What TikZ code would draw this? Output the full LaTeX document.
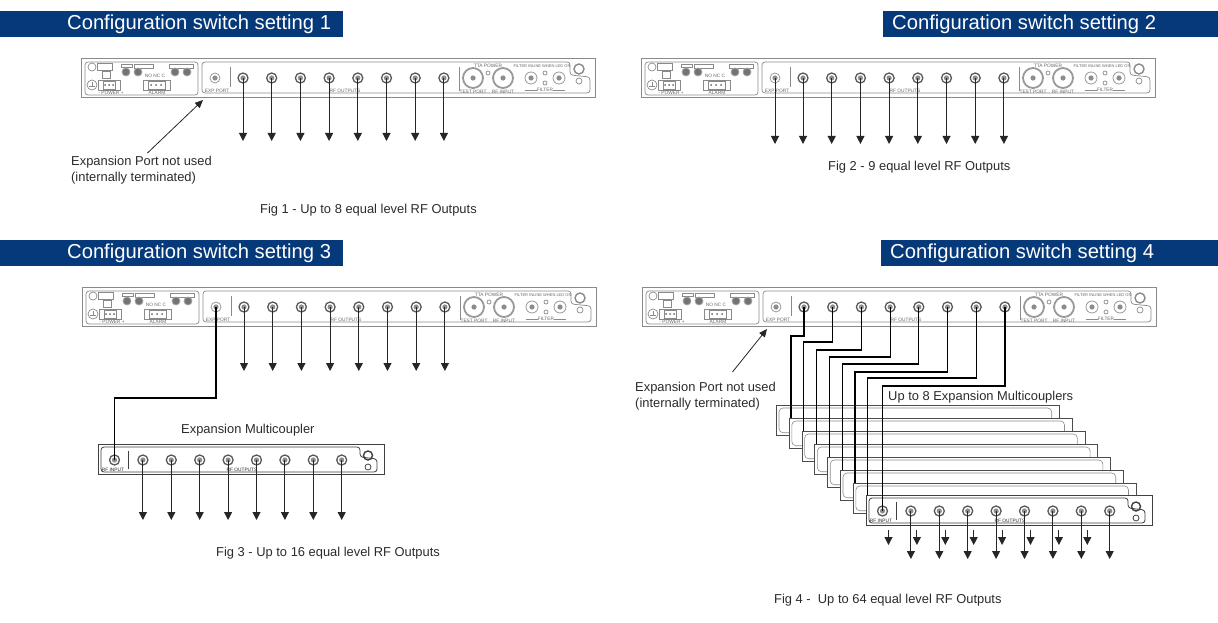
\documentclass[tikz,border=0pt]{standalone}
\usepackage{fontspec}
\setmainfont{Liberation Sans}
\usetikzlibrary{arrows.meta, calc}
\definecolor{headblue}{HTML}{06397A}
\definecolor{ink}{HTML}{2B2B2B}
\definecolor{panelgray}{HTML}{8A8A8A}
\tikzset{
  bar/.style={rectangle, fill=headblue, minimum height=26pt, inner sep=0pt, anchor=north west},
  title/.style={font=\fontsize{20.2}{22}\selectfont, text=white, inner sep=0pt, anchor=west},
  caption/.style={font=\fontsize{12.9}{15}\selectfont, text=ink, inner sep=0pt, anchor=west},
  note/.style={font=\fontsize{12.9}{15.6}\selectfont, text=ink, inner sep=0pt, anchor=north west, align=left},
  tinytext/.style={font=\fontsize{4.8}{5.5}\selectfont, text=black!60, inner sep=0pt},
  panelline/.style={draw=panelgray, line width=0.7pt},
  darkline/.style={draw=black!75, line width=0.8pt},
  rfport/.style={circle, draw=black!65, fill=white, line width=1.3pt, minimum size=10pt, inner sep=0pt,
    path picture={\fill[black!45] (path picture bounding box.center) circle (2.6);}},
  expport/.style={rfport, draw=black!40, line width=0.8pt},
  bigport/.style={rfport, draw=black!40, line width=1.8pt, minimum size=20pt},
  knob/.style={circle, fill=black!55, draw=black!35, line width=0.8pt, minimum size=8pt, inner sep=0pt},
  cardbox/.style={rectangle, draw=black!70, fill=white, line width=0.7pt, minimum width=283pt, minimum height=30pt, inner sep=0pt, anchor=north west},
  arrow/.style={-{Triangle[length=8pt,width=8pt]}, line width=1pt, draw=black!85},
  thinarrow/.style={-{Triangle[length=8pt,width=7pt]}, line width=0.8pt, draw=black!85},
  cable/.style={line width=1.2pt, draw=black},
  rackpanel/.pic={
    \draw[panelline] (0,0) rectangle (514,39);
    \draw[panelline, rounded corners=3pt] (4,4) rectangle (117,37);
    \draw[panelline, rounded corners=3pt] (121,4) -- (489,4) -- (489,17) -- (509,19) -- (509,35) -- (121,35) -- cycle;
    % left block
    \draw[panelline] (11,9) circle (4);
    \draw[panelline] (11,27) circle (5);
    \draw[panelline] (11,24) -- (11,28) (8,28) -- (14,28);
    \draw[panelline] (16,5) rectangle (31,12);
    \draw[panelline] (40,6) rectangle (51,9);
    \draw[panelline] (53,6) rectangle (72,10);
    \draw[panelline] (88,6) rectangle (112,10);
    \draw[panelline] (21,13) rectangle (29,20);
    \draw[panelline] (17,22) rectangle (39,32);
    \draw[panelline] (62,22) rectangle (89,32);
    \draw[panelline] (22,23) rectangle (34,31);
    \draw[panelline] (67,23) rectangle (84,31);
    \foreach \px in {24,28,32}
      \fill[black!60] (\px,27) circle (1);
    \foreach \px in {70,75,80}
      \fill[black!60] (\px,27) circle (1);
    \foreach \k/\kx in {a/45,b/57,c/94,d/106}
      \node[knob] (knob\k) at (\kx,14) {};
    \node[tinytext] (powertext) at (30,35) {- POWER +};
    \node[tinytext] (alarmtext) at (76,35) {ALARM};
    \node[tinytext] (nonctext) at (74,18) {NO NC C};
    % ports
    \node[expport] (exp) at (134,20) {};
    \node[tinytext] (exptext) at (136,33) {EXP PORT};
    \draw[panelline] (149,9) -- (149,29);
    \foreach \i in {1,...,8}
      \node[rfport] (p\i) at ({133.3+28.7*\i},20) {};
    \node[tinytext] (rftext) at (264,33) {RF OUTPUTS};
    \draw[panelline] (378,9) -- (378,33);
    \node[bigport] (test) at (392,20) {};
    \node[bigport] (input) at (422,20) {};
    \node[expport, minimum size=12pt] (filta) at (450,20) {};
    \node[expport, minimum size=12pt] (filtb) at (478,20) {};
    \draw[panelline] (407,15) circle (2);
    \draw[panelline] (464,15) circle (2);
    \draw[panelline] (464,25) circle (2);
    \node[tinytext] (ttatext) at (407,8) {TTA POWER};
    \node[tinytext] (testtext) at (392,34) {TEST PORT};
    \node[tinytext] (inputtext) at (422,34) {RF INPUT};
    \node[tinytext, font=\fontsize{4}{5}\selectfont] (inlinetext) at (461,8) {FILTER INLINE WHEN LED ON};
    \node[tinytext] (filtertext) at (464,32) {FILTER};
    \draw[panelline] (444,32) -- (456,32) (472,32) -- (484,32);
    \draw[panelline, line width=1.4pt] (498,11) circle (5);
    \draw[panelline] (498,23) circle (3);
  },
  couplerpanel/.pic={
    \draw[darkline, fill=white] (0,0) rectangle (286,30);
    \draw[darkline, rounded corners=3pt] (3,3) -- (262,3) -- (262,13) -- (279,15) -- (279,28) -- (3,28) -- cycle;
    \node[rfport] (p0) at (16.5,16) {};
    \draw[darkline] (30,7) -- (30,25);
    \foreach \i in {1,...,8}
      \node[rfport] (p\i) at ({16.5+28.4*\i},16) {};
    \node[tinytext, text=black!85] (inputtext) at (15,26) {RF INPUT};
    \node[tinytext, text=black!85] (rftext) at (144,26) {RF OUTPUTS};
    \draw[darkline, line width=1.4pt] (270,11.5) circle (4.5);
    \draw[darkline] (270,23) circle (3);
  },
}
\begin{document}
\begin{tikzpicture}[x=1pt, y=-1pt]
  \useasboundingbox (0,0) rectangle (1218,623);

  % setting 1
  \node[bar, minimum width=343pt] (barone) at (0,11) {};
  \node[title] (titleone) at (67,24) {Configuration switch setting 1};
  \pic (one) at (81,58) {rackpanel};
  \coordinate (oneend) at (0,141);
  \foreach \i in {1,...,8}
    \draw[arrow] (onep\i.center) -- (onep\i |- oneend);
  \node[note] (noteone) at (71,156) {Expansion Port not used\\(internally terminated)};
  \coordinate (tipone) at (203,100);
  \draw[thinarrow] (noteone.north) ++(6,-3) -- (tipone);
  \node[caption] (capone) at (260,210) {Fig 1 - Up to 8 equal level RF Outputs};

  % setting 2
  \node[bar, minimum width=335pt] (bartwo) at (883,11) {};
  \node[title] (titletwo) at (892,24) {Configuration switch setting 2};
  \pic (two) at (641,58) {rackpanel};
  \coordinate (twoend) at (0,144);
  \draw[arrow] (twoexp.center) -- (twoexp |- twoend);
  \foreach \i in {1,...,8}
    \draw[arrow] (twop\i.center) -- (twop\i |- twoend);
  \node[caption] (captwo) at (828,167) {Fig 2 - 9 equal level RF Outputs};

  % setting 3
  \node[bar, minimum width=343pt] (barthree) at (0,240) {};
  \node[title] (titlethree) at (67,253) {Configuration switch setting 3};
  \pic (three) at (82,287) {rackpanel};
  \foreach \i in {1,...,8}
    \draw[arrow] (threep\i.center) -- (threep\i |- 0,371);
  \node[caption] (expthree) at (181,430) {Expansion Multicoupler};
  \pic (cthree) at (98,444) {couplerpanel};
  \draw[cable] (threeexp.center) |- (cthreep0 |- 0,398) -- (cthreep0.center);
  \foreach \i in {1,...,8}
    \draw[arrow] (cthreep\i.center) -- (cthreep\i |- 0,520);
  \node[caption] (capthree) at (216,553) {Fig 3 - Up to 16 equal level RF Outputs};

  % setting 4
  \node[bar, minimum width=337pt] (barfour) at (881,240) {};
  \node[title] (titlefour) at (890,253) {Configuration switch setting 4};
  \pic (four) at (642,287) {rackpanel};
  \node[note] (notefour) at (635,382) {Expansion Port not used\\(internally terminated)};
  \coordinate (tipfour) at (767,329);
  \draw[thinarrow] (notefour.north) ++(27,-10) -- (tipfour);
  \foreach \i/\level in {1/336,2/342,3/350,4/357,5/364,6/372,7/378} {
    \node[cardbox] (card\i) at ({763.2+12.8*\i},{392+13*\i}) {};
    \draw[black!45, line width=0.6pt, rounded corners=4pt] ($(card\i.north west)+(3,3)$) rectangle ($(card\i.south east)+(-8,-3)$);
    \coordinate (cardin\i) at ($(card\i.north west)+(15,16)$);
    \draw[cable] (fourp\i.center) |- (cardin\i |- 0,\level) -- (cardin\i);
  }
  \pic (cfour) at (866,495) {couplerpanel};
  \draw[cable] (fourp8.center) |- (cfourp0 |- 0,386) -- (cfourp0.center);
  \node[caption] (upfour) at (888,397) {Up to 8 Expansion Multicouplers};
  \foreach \i in {1,...,8}
    \draw[arrow] (cfourp\i.center) -- (cfourp\i |- 0,559);
  \foreach \i in {0,...,7}
    \draw[arrow] ($(cfourp\i)+(6,19)$) -- ++(0,15);
  \node[caption] (capfour) at (774,600) {Fig 4 -\ \ Up to 64 equal level RF Outputs};
\end{tikzpicture}
\end{document}
